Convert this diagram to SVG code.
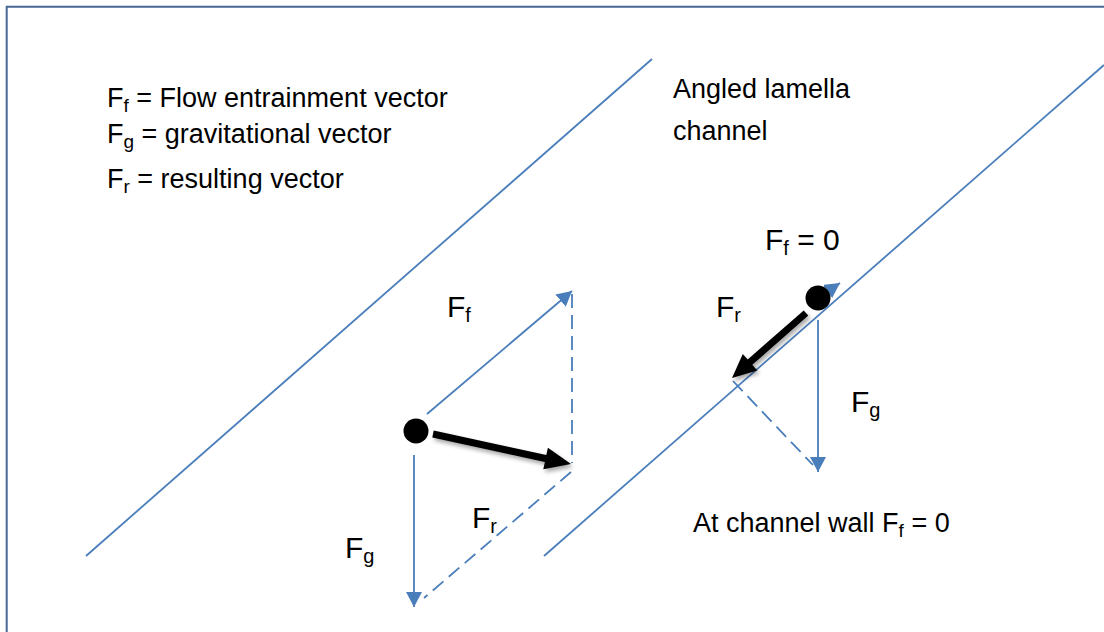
<svg xmlns="http://www.w3.org/2000/svg" width="1104" height="632" viewBox="0 0 1104 632">
<style>
.t{font-family:"Liberation Sans",Arial,sans-serif;font-size:27px;fill:#000}
.lb{font-family:"Liberation Sans",Arial,sans-serif;font-size:30px;fill:#000}
.wall{stroke:#4a7ebb;stroke-width:1.8;fill:none}
.vec{stroke:#4a7ebb;stroke-width:1.8;fill:none}
.dash{stroke:#4a7ebb;stroke-width:1.8;fill:none;stroke-dasharray:14 7}
.blk{fill:#000;filter:url(#sh)}
</style>
<defs>
<marker id="ah" viewBox="0 0 15 16" refX="15" refY="8" markerWidth="15" markerHeight="16" markerUnits="userSpaceOnUse" orient="auto">
<path d="M0,0 L15,8 L0,16 z" fill="#4a7ebb"/>
</marker>
<filter id="sh" x="-20%" y="-20%" width="140%" height="160%">
<feDropShadow dx="2" dy="3" stdDeviation="2" flood-color="#000" flood-opacity="0.35"/>
</filter>
</defs>
<rect x="0" y="0" width="1104" height="632" fill="#fff"/>
<path d="M6.7,632 V6.7 H1104" fill="none" stroke="#4a6896" stroke-width="2"/>

<g id="walls">
<line class="wall" x1="86" y1="556" x2="652" y2="59"/>
<line class="wall" x1="544" y1="556" x2="1104" y2="65"/>
</g>

<g id="connectors">
<line class="vec" x1="427" y1="414" x2="572" y2="291" marker-end="url(#ah)"/>
<line class="vec" x1="414" y1="455" x2="414" y2="607" marker-end="url(#ah)"/>
<line class="dash" x1="572" y1="294" x2="572" y2="463"/>
<line class="dash" x1="571" y1="472" x2="424" y2="598"/>
<polygon class="blk" points="433.7,430.6 546.3,455.1 547.9,447.7 571,464 543.3,469.3 544.9,461.9 432.3,437.4"/>
<line class="vec" x1="818" y1="298" x2="840" y2="283" marker-end="url(#ah)"/>
<line class="vec" x1="818" y1="320" x2="818" y2="472" marker-end="url(#ah)"/>
<line class="dash" x1="733" y1="381" x2="813" y2="465"/>
<polygon class="blk" points="803.7,310.4 747.7,359.5 742.8,353.9 732,378 757.3,370.4 752.3,364.8 808.3,315.6"/>
</g>

<g id="particle-left"><circle cx="416" cy="431" r="12.5" fill="#000"/></g>
<g id="particle-right"><circle cx="818" cy="298" r="12.5" fill="#000"/></g>

<g id="legend">
<text class="t" x="107" y="107">F<tspan font-size="19" dy="5">f</tspan><tspan dy="-5"> = Flow entrainment vector</tspan></text>
<text class="t" x="107" y="143">F<tspan font-size="19" dy="5">g</tspan><tspan dy="-5"> = gravitational vector</tspan></text>
<text class="t" x="107" y="188">F<tspan font-size="19" dy="5">r</tspan><tspan dy="-5"> = resulting vector</tspan></text>
</g>

<g id="channel-label">
<text class="t" x="673" y="98">Angled lamella</text>
<text class="t" x="673" y="140">channel</text>
</g>

<g id="labels-left">
<text class="lb" x="447" y="317">F<tspan font-size="20" dy="5">f</tspan></text>
<text class="lb" x="472" y="528">F<tspan font-size="20" dy="5">r</tspan></text>
<text class="lb" x="345" y="558">F<tspan font-size="20" dy="5">g</tspan></text>
</g>

<g id="labels-right">
<text class="lb" x="765" y="250">F<tspan font-size="20" dy="5">f</tspan><tspan dy="-5"> = 0</tspan></text>
<text class="lb" x="716" y="317">F<tspan font-size="20" dy="5">r</tspan></text>
<text class="lb" x="851" y="412">F<tspan font-size="20" dy="5">g</tspan></text>
<text class="t" x="693" y="532">At channel wall F<tspan font-size="19" dy="5">f</tspan><tspan dy="-5"> = 0</tspan></text>
</g>
</svg>
